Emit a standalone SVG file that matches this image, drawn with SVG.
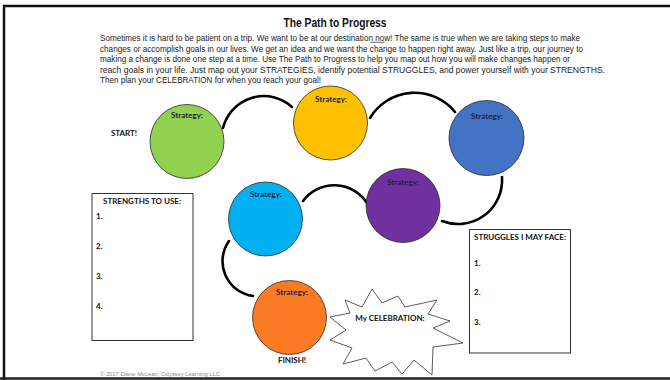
<svg xmlns="http://www.w3.org/2000/svg" width="670" height="380" viewBox="0 0 670 380">
<defs>
<style>
.body{font-family:"Liberation Sans",Arial,sans-serif;font-size:8.3px;fill:#222}
.title{font-family:"Liberation Sans",Arial,sans-serif;font-size:12px;font-weight:bold;fill:#111}
.lbl{font-family:Lato,"Open Sans",sans-serif;font-size:8px;font-weight:bold;fill:#1c2340;text-anchor:middle}
.blk{font-family:Lato,"Open Sans",sans-serif;font-size:8px;font-weight:bold;fill:#111}
.box{fill:#fff;stroke:#333;stroke-width:1}
.node{stroke:#2a2a2a;stroke-width:0.8}
.con{fill:none;stroke:#000;stroke-width:2.6;stroke-linecap:round}
</style>
</defs>
<rect x="0" y="0" width="670" height="380" fill="#fff"/>
<path d="M4,380 V6 H672" fill="none" stroke="#111" stroke-width="2.5"/>
<line x1="0" y1="378.5" x2="670" y2="378.5" stroke="#222" stroke-width="2.5"/>

<text class="title" x="335" y="27" text-anchor="middle" textLength="103" lengthAdjust="spacingAndGlyphs">The Path to Progress</text>
<g class="body">
<text x="100" y="41" textLength="480" lengthAdjust="spacingAndGlyphs">Sometimes it is hard to be patient on a trip. We want to be at our destination now! The same is true when we are taking steps to make</text>
<line x1="370.5" y1="42.3" x2="384.5" y2="42.3" stroke="#222" stroke-width="0.7"/>
<text x="100" y="51.5" textLength="483" lengthAdjust="spacingAndGlyphs">changes or accomplish goals in our lives. We get an idea and we want the change to happen right away. Just like a trip, our journey to</text>
<text x="100" y="62" textLength="470" lengthAdjust="spacingAndGlyphs">making a change is done one step at a time. Use The Path to Progress to help you map out how you will make changes happen or</text>
<text x="100" y="72.5" textLength="505" lengthAdjust="spacingAndGlyphs">reach goals in your life. Just map out your STRATEGIES, identify potential STRUGGLES, and power yourself with your STRENGTHS.</text>
<text x="100" y="83" textLength="221" lengthAdjust="spacingAndGlyphs">Then plan your CELEBRATION for when you reach your goal!</text>
</g>

<g id="connectors">
<path class="con" d="M223,128 A42,42 0 0 1 292,107"/>
<path class="con" d="M370,118 A52,52 0 0 1 455,112"/>
<path class="con" d="M502,177 A44,44 0 0 1 442,221"/>
<path class="con" d="M303,201 A39,39 0 0 1 367,203"/>
<path class="con" d="M229,241 A35,35 0 0 0 253,296"/>
</g>

<g id="start"><text class="blk" x="124" y="136" text-anchor="middle">START!</text></g>
<g id="s1"><circle class="node" cx="187" cy="141.5" r="37" fill="#92d050"/><text class="lbl" x="187" y="118">Strategy:</text></g>
<g id="s2"><circle class="node" cx="330.5" cy="123" r="37" fill="#ffc000"/><text class="lbl" x="331" y="102">Strategy:</text></g>
<g id="s3"><circle class="node" cx="486.5" cy="138" r="37.5" fill="#4472c4"/><text class="lbl" x="487" y="119">Strategy:</text></g>
<g id="s4"><circle class="node" cx="403" cy="205.5" r="37" fill="#7030a0"/><text class="lbl" x="403" y="185">Strategy:</text></g>
<g id="s5"><circle class="node" cx="265.5" cy="219" r="37" fill="#00b0f0"/><text class="lbl" x="266" y="197">Strategy:</text></g>
<g id="s6"><circle class="node" cx="289.5" cy="317.5" r="37" fill="#fb7a24"/><text class="lbl" x="292" y="295">Strategy:</text></g>
<g id="finish"><text class="blk" x="292" y="363" text-anchor="middle">FINISH!</text></g>

<g id="strengths">
<rect class="box" x="92" y="193.5" width="101" height="147"/>
<text class="blk" x="142" y="204" text-anchor="middle" font-size="7">STRENGTHS TO USE:</text>
<text class="blk" x="96" y="219" font-size="7">1.</text>
<text class="blk" x="96" y="249" font-size="7">2.</text>
<text class="blk" x="96" y="279" font-size="7">3.</text>
<text class="blk" x="96" y="309" font-size="7">4.</text>
</g>

<g id="struggles">
<rect class="box" x="469.5" y="229.5" width="101" height="123.5"/>
<text class="blk" x="520" y="240" text-anchor="middle" font-size="7">STRUGGLES I MAY FACE:</text>
<text class="blk" x="474" y="265.5" font-size="7">1.</text>
<text class="blk" x="474" y="295" font-size="7">2.</text>
<text class="blk" x="474" y="325" font-size="7">3.</text>
</g>

<g id="celebration">
<polygon points="372,289 382,303 398,296 405,307 437,300 428,314 450,321 433,328 463,343 433,347 432,375 414,360 402,374 392,362 375,371 366,358 343,364 352,348 330,340 346,330 330,317 350,313 345,300 362,307" fill="#fff" stroke="#333" stroke-width="0.8"/>
<text class="blk" x="390" y="321" text-anchor="middle" font-size="7.5">My CELEBRATION:</text>
</g>

<text x="100" y="376" font-family="Liberation Sans,Arial,sans-serif" font-size="5.5" fill="#8a8a8a" textLength="120" lengthAdjust="spacingAndGlyphs">© 2017 Diane McLean, Odyssey Learning LLC</text>
</svg>
